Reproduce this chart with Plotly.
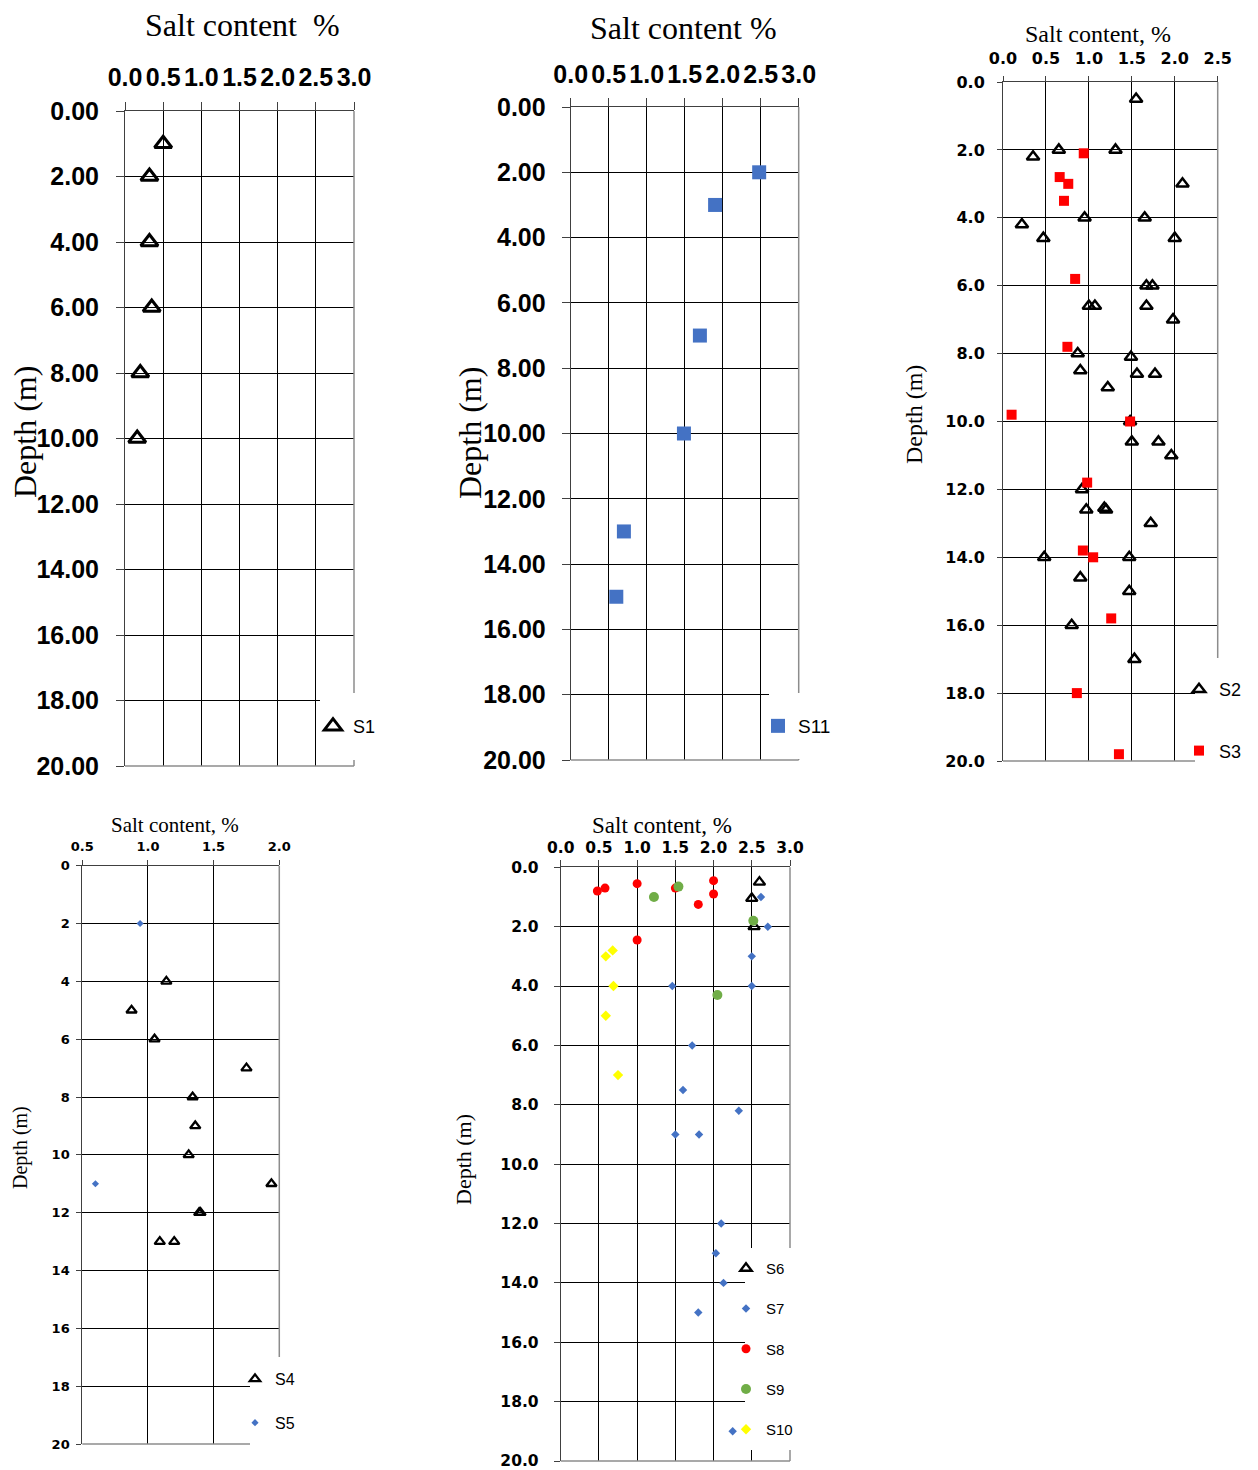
import plotly.graph_objects as go

# ---------------- data ----------------
# Panel 1 : S1
s1_salt = [0.50, 0.32, 0.32, 0.35, 0.20, 0.16]
s1_depth = [1.0, 2.0, 4.0, 6.0, 8.0, 10.0]

# Panel 2 : S11
s11_salt = [2.48, 1.90, 1.70, 1.49, 0.70, 0.60]
s11_depth = [2.0, 3.0, 7.0, 10.0, 13.0, 15.0]

# Panel 3 : S2 / S3
s2_salt = [1.55, 0.35, 0.65, 1.31, 2.09, 0.95, 1.65, 0.22, 0.47, 2.00, 1.67, 1.74,
           1.00, 1.07, 1.67, 1.98, 0.87, 1.49, 0.90, 1.56, 1.77, 1.22, 1.48, 1.50,
           1.81, 1.96, 0.92, 0.97, 1.18, 1.20, 1.72, 0.48, 1.47, 0.90, 1.47, 0.80, 1.53]
s2_depth = [0.5, 2.2, 2.0, 2.0, 3.0, 4.0, 4.0, 4.2, 4.6, 4.6, 6.0, 6.0,
            6.6, 6.6, 6.6, 7.0, 8.0, 8.1, 8.5, 8.6, 8.6, 9.0, 10.0, 10.6,
            10.6, 11.0, 12.0, 12.6, 12.55, 12.6, 13.0, 14.0, 14.0, 14.6, 15.0, 16.0, 17.0]
s3_salt = [0.94, 0.66, 0.76, 0.71, 0.84, 0.75, 0.10, 1.48, 0.98, 0.93, 1.05, 1.26, 0.86, 1.35]
s3_depth = [2.1, 2.8, 3.0, 3.5, 5.8, 7.8, 9.8, 10.0, 11.8, 13.8, 14.0, 15.8, 18.0, 19.8]

# Panel 4 : S4 / S5
s4_salt = [1.14, 0.875, 1.05, 1.75, 1.34, 1.36, 1.31, 1.94, 1.39, 1.40, 1.09, 1.20]
s4_depth = [4.0, 5.0, 6.0, 7.0, 8.0, 9.0, 10.0, 11.0, 12.0, 12.0, 13.0, 13.0]
s5_salt = [0.94, 0.60]
s5_depth = [2.0, 11.0]

# Panel 5 : S6 .. S10
s6_salt = [2.60, 2.50, 2.53]
s6_depth = [0.5, 1.05, 2.0]
s7_salt = [2.62, 2.71, 2.50, 1.46, 2.50, 1.72, 1.60, 2.33, 1.50, 1.81, 2.10, 2.03, 2.13, 1.80, 2.25]
s7_depth = [1.0, 2.0, 3.0, 4.0, 4.0, 6.0, 7.5, 8.2, 9.0, 9.0, 12.0, 13.0, 14.0, 15.0, 19.0]
s8_salt = [0.48, 0.58, 1.00, 1.50, 2.00, 2.00, 1.80, 1.00]
s8_depth = [0.8, 0.7, 0.55, 0.7, 0.45, 0.9, 1.25, 2.45]
s9_salt = [1.54, 1.22, 2.52, 2.05]
s9_depth = [0.65, 1.0, 1.8, 4.3]
s10_salt = [0.68, 0.59, 0.69, 0.59, 0.75]
s10_depth = [2.8, 3.0, 4.0, 5.0, 7.0]

# ---------------- layout helpers ----------------
OFF = 8                      # page body margin of the html page
W, H = 1258 - OFF, 1470 - OFF
def px(x):
    return (x - OFF) / W
def py(y):
    return 1 - (y - OFF) / H

BLUE = "#4472C4"
RED = "#FF0000"
GREEN = "#70AD47"
YELLOW = "#FFFF00"

fig = go.Figure()

# panel geometry in page pixels: (x0, x1, ytop, ybottom)
panels = {
    1: dict(box=(125, 354, 111, 766), xr=[0, 3.0], yfmt=".2f", font=("Liberation Sans", 25),
            ticklen=8, xstand=6, ystand=12),
    2: dict(box=(570.7, 798.7, 107, 760), xr=[0, 3.0], yfmt=".2f", font=("Liberation Sans", 25),
            ticklen=8, xstand=5, ystand=11),
    3: dict(box=(1003, 1217.7, 82, 761), xr=[0, 2.5], yfmt=".1f", font=("DejaVu Sans", 16),
            ticklen=5, xstand=6, ystand=9),
    4: dict(box=(82.3, 279.3, 865.7, 1444), xr=[0.5, 2.0], yfmt="d", font=("DejaVu Sans", 13),
            ticklen=5, xstand=4, ystand=4),
    5: dict(box=(560.7, 790, 867.3, 1461), xr=[0, 3.0], yfmt=".1f", font=("DejaVu Sans", 15.5),
            ticklen=6, xstand=1, ystand=12),
}

layout_axes = {}
shapes = []
for i, p in panels.items():
    x0, x1, yt, yb = p["box"]
    xa = "xaxis" if i == 1 else f"xaxis{i}"
    ya = "yaxis" if i == 1 else f"yaxis{i}"
    fam, size = p["font"]
    tickfont = dict(family=fam, size=size, color="black", weight="bold")
    layout_axes[xa] = dict(
        domain=[px(x0), px(x1)], range=p["xr"], side="top", anchor=("y" if i == 1 else f"y{i}"),
        dtick=0.5, tickformat=".1f", tickangle=0, ticks="outside", ticklen=p["ticklen"],
        tickcolor="#404040", showline=True, linecolor="#404040", linewidth=1,
        showgrid=True, gridcolor="black", gridwidth=1, zeroline=False, automargin=False,
        tickfont=tickfont, ticklabelstandoff=p["xstand"], ticklabeloverflow="allow",
        fixedrange=True,
    )
    layout_axes[ya] = dict(
        domain=[py(yb), py(yt)], range=[20, 0], anchor=("x" if i == 1 else f"x{i}"),
        dtick=2, tickformat=p["yfmt"], ticks="outside", ticklen=p["ticklen"],
        tickcolor="#404040", showline=True, linecolor="#404040", linewidth=1,
        showgrid=True, gridcolor="black", gridwidth=1, zeroline=False, automargin=False,
        tickfont=tickfont, ticklabelstandoff=p["ystand"], ticklabeloverflow="allow",
        fixedrange=True,
    )
    # right and bottom borders (gray)
    shapes.append(dict(type="line", xref="paper", yref="paper", x0=px(x1), x1=px(x1),
                       y0=py(yt), y1=py(yb), line=dict(color="#8c8c8c", width=1.5), layer="above"))
    shapes.append(dict(type="line", xref="paper", yref="paper", x0=px(x0), x1=px(x1),
                       y0=py(yb), y1=py(yb), line=dict(color="#8c8c8c", width=1.5), layer="above"))

# white legend background boxes overlapping the plot areas
for (bx0, bx1, by0, by1) in [(320, 390, 693, 760), (769, 850, 693, 759), (1195, 1258, 658, 770),
                             (250, 310, 1357, 1452), (745, 805, 1248, 1450)]:
    shapes.append(dict(type="rect", xref="paper", yref="paper", x0=px(bx0), x1=px(bx1),
                       y0=py(by1), y1=py(by0), fillcolor="white", line=dict(width=0), layer="above"))

def add(i, name, xs, ys, symbol, color, size, lw=0, lcolor=None, legend="legend"):
    xa = "x" if i == 1 else f"x{i}"
    ya = "y" if i == 1 else f"y{i}"
    marker = dict(symbol=symbol, size=size, color=color)
    if lw:
        marker["line"] = dict(width=lw, color=lcolor or color)
    else:
        marker["line"] = dict(width=0)
    fig.add_trace(go.Scatter(x=xs, y=ys, mode="markers", name=name, xaxis=xa, yaxis=ya,
                             marker=marker, legend=legend, legendgroup=name, cliponaxis=False))

add(1, "S1", s1_salt, s1_depth, "triangle-up-open", "black", 15, 3, "black", "legend")
add(2, "S11", s11_salt, s11_depth, "square", BLUE, 14, legend="legend2")
add(3, "S2", s2_salt, s2_depth, "triangle-up-open", "black", 11, 2.5, "black", "legend3")
add(3, "S3", s3_salt, s3_depth, "square", RED, 10, legend="legend3")
add(4, "S4", s4_salt, s4_depth, "triangle-up-open", "black", 9, 2.3, "black", "legend4")
add(4, "S5", s5_salt, s5_depth, "diamond", BLUE, 5.5, legend="legend4")
add(5, "S6", s6_salt, s6_depth, "triangle-up-open", "black", 10, 2.3, "black", "legend5")
add(5, "S7", s7_salt, s7_depth, "diamond", BLUE, 6.5, legend="legend5")
add(5, "S8", s8_salt, s8_depth, "circle", RED, 9, legend="legend5")
add(5, "S9", s9_salt, s9_depth, "circle", GREEN, 10, legend="legend5")
add(5, "S10", s10_salt, s10_depth, "diamond", YELLOW, 8, legend="legend5")

def legend_cfg(left, top, fsize, gap):
    return dict(x=px(left), y=py(top), xanchor="left", yanchor="top", bgcolor="rgba(0,0,0,0)",
                borderwidth=0, font=dict(family="Liberation Sans", size=fsize, color="black"),
                tracegroupgap=gap, traceorder="grouped")

serif = "Liberation Serif"
annotations = [
    dict(text="Salt content\u00a0 %", x=px(242), y=py(25), size=32),
    dict(text="Depth (m)", x=px(25), y=py(432), size=32, rot=-90),
    dict(text="Salt content %", x=px(684), y=py(28), size=32),
    dict(text="Depth (m)", x=px(470), y=py(433), size=32, rot=-90),
    dict(text="Salt content, %", x=px(1098), y=py(34), size=24),
    dict(text="Depth (m)", x=px(914), y=py(415), size=24, rot=-90),
    dict(text="Salt content, %", x=px(175), y=py(825), size=21),
    dict(text="Depth (m)", x=px(20), y=py(1148), size=20, rot=-90),
    dict(text="Salt content, %", x=px(662), y=py(825), size=23),
    dict(text="Depth (m)", x=px(463), y=py(1160), size=22, rot=-90),
]
ann = []
for a in annotations:
    ann.append(dict(text=a["text"], x=a["x"], y=a["y"], xref="paper", yref="paper",
                    xanchor="center", yanchor="middle", showarrow=False,
                    textangle=a.get("rot", 0),
                    font=dict(family=serif, size=a["size"], color="black")))

fig.update_layout(
    width=W, height=H, margin=dict(l=0, r=0, t=0, b=0, pad=0, autoexpand=False),
    paper_bgcolor="white", plot_bgcolor="white",
    showlegend=True,
    legend=legend_cfg(313, 708, 18, 10),
    legend2=legend_cfg(758, 707, 19, 10),
    legend3=legend_cfg(1179, 671, 18, 35),
    legend4=legend_cfg(235, 1362, 16, 20),
    legend5=legend_cfg(726, 1252, 15, 17.75),
    shapes=shapes, annotations=ann,
    **layout_axes,
)

fig.write_html("out.html")
